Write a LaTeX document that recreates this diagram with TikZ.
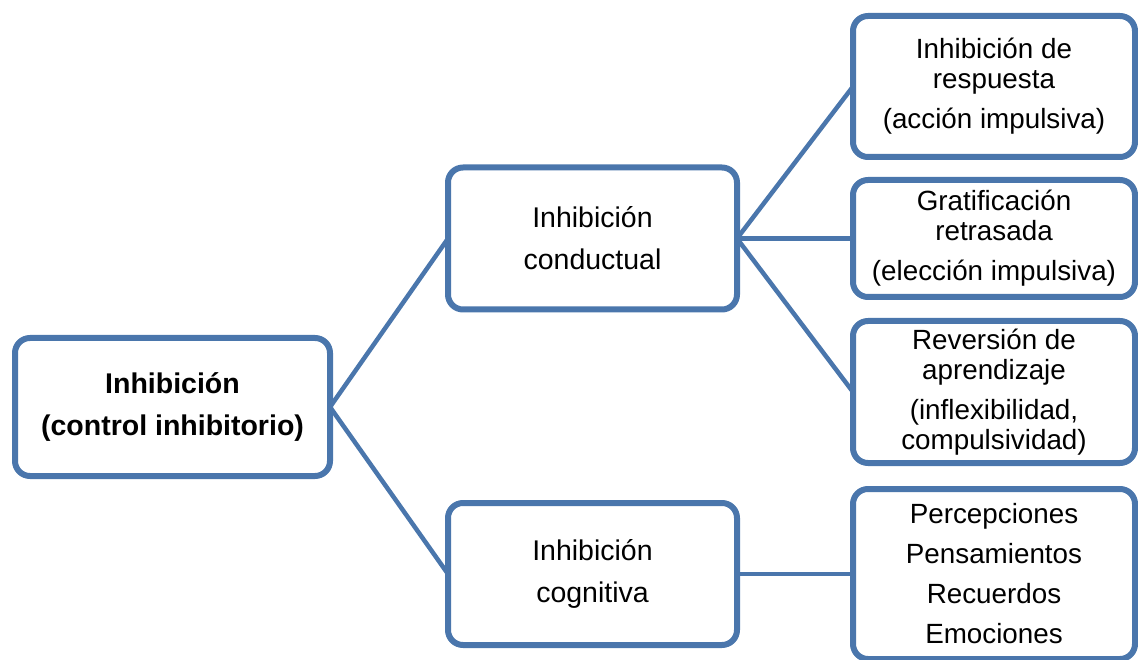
\documentclass[tikz,border=0pt]{standalone}
\usepackage{fontspec}
\setmainfont{Liberation Sans}
\definecolor{boxblue}{HTML}{4A76AC}
\begin{document}
\begin{tikzpicture}[x=1pt,y=-1pt,
  box/.style={draw=boxblue, line width=6pt, rounded corners=15pt, fill=white,
    inner sep=0pt, outer sep=0pt, align=center},
  link/.style={draw=boxblue, line width=4.5pt},
  mid/.style={font=\fontsize{28.5}{42}\selectfont},
  leaf/.style={font=\fontsize{27.8}{30}\selectfont}]
\useasboundingbox (0,0) rectangle (1138,660);
% boxes
\node[box, minimum width=315pt, minimum height=138pt, font=\bfseries\fontsize{28.5}{42}\selectfont] (root) at (172.5,407)
  {Inhibición\\(control inhibitorio)};
\node[box, mid, minimum width=289pt, minimum height=142pt] (cond) at (592.5,238.5)
  {Inhibición\\conductual};
\node[box, mid, minimum width=289pt, minimum height=142pt] (cog) at (592.5,574)
  {Inhibición\\cognitiva};
\node[box, leaf, minimum width=282pt, minimum height=141pt] (r1) at (994,86.5)
  {Inhibición de\\respuesta\\[10pt](acción impulsiva)};
\node[box, leaf, minimum width=282pt, minimum height=117pt] (r2) at (994,238.5)
  {Gratificación\\retrasada\\[10pt](elección impulsiva)};
\node[box, leaf, minimum width=282pt, minimum height=142pt] (r3) at (994,392)
  {Reversión de\\aprendizaje\\[10pt](inflexibilidad,\\compulsividad)};
\node[box, minimum width=282pt, minimum height=170pt, font=\fontsize{27.8}{40}\selectfont] (r4) at (994,574)
  {Percepciones\\Pensamientos\\Recuerdos\\Emociones};
% connectors
\draw[link] (root.east) -- (cond.west);
\draw[link] (root.east) -- (cog.west);
\draw[link] (cond.east) -- (r1.west);
\draw[link] (cond.east) -- (r2.west);
\draw[link] (cond.east) -- (r3.west);
\draw[link] (cog.east) -- (r4.west);
\end{tikzpicture}
\end{document}
